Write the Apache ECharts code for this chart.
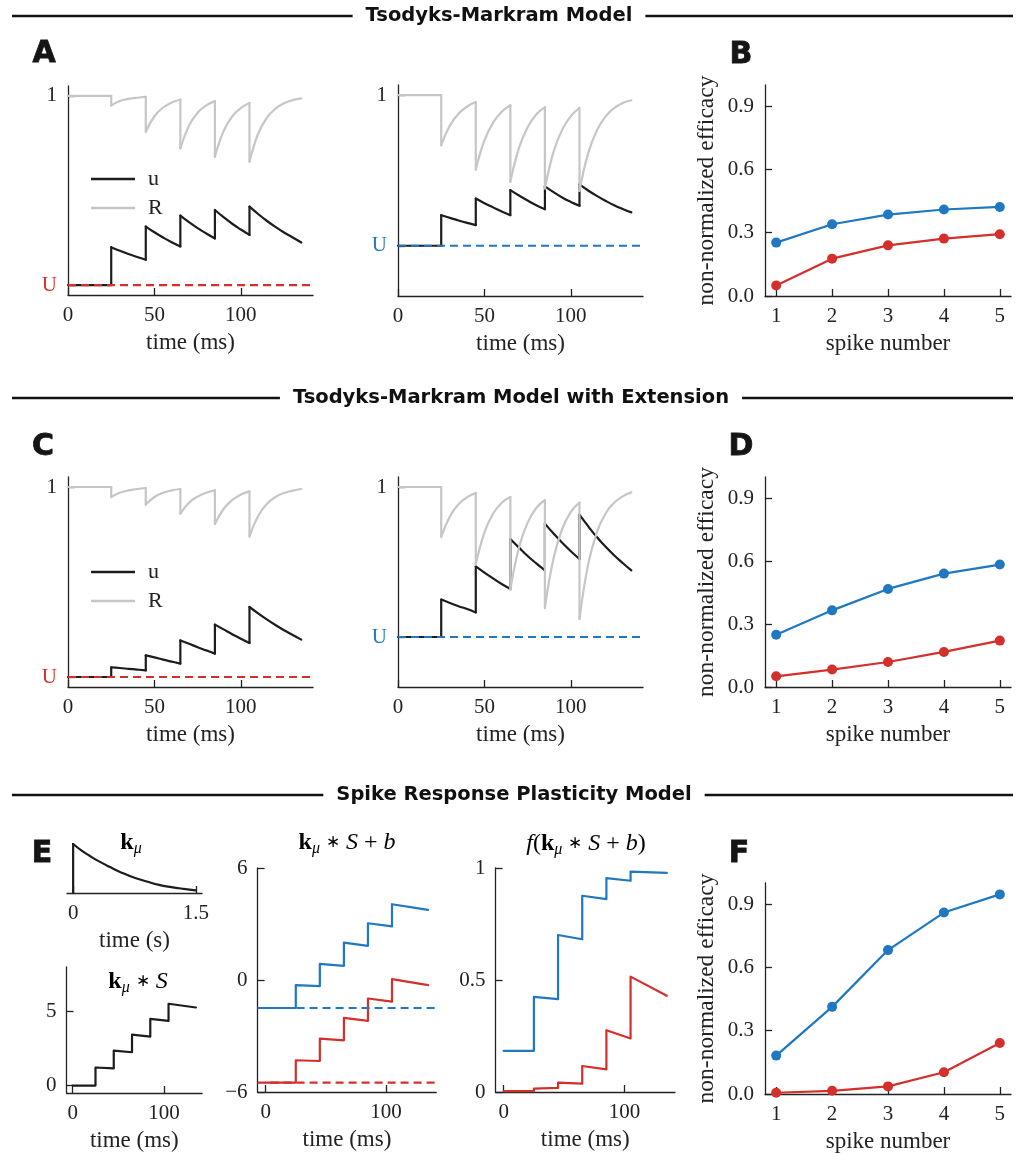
<!DOCTYPE html>
<html><head><meta charset="utf-8">
<script src="https://cdn.jsdelivr.net/npm/echarts@6/dist/echarts.min.js"></script>
<style>html,body{margin:0;padding:0;background:#fff}#c{width:1025px;height:1154px}</style>
</head><body><div id="c"></div>
<script>
// ---------------- DATA ----------------
const U_red = 0.05;
const U_blue = 0.25;
const traceTime = [0, 25,25,30,35,40, 45,45,50,55,60, 65,65,70,75,80, 85,85,90,95,100, 105,105,110,115,120,125,130,135];
// Panel A (Tsodyks-Markram)
const uA_red  = [0.05, 0.05,0.240,0.222,0.206,0.191, 0.177,0.344,0.315,0.289,0.265, 0.244,0.399,0.366,0.336,0.309, 0.284,0.427,0.391,0.358,0.329, 0.302,0.444,0.407,0.373,0.342,0.314,0.289,0.264];
const RA_red  = [1, 1,0.952,0.975,0.985,0.991, 0.995,0.820,0.898,0.942,0.967, 0.982,0.736,0.851,0.916,0.953, 0.974,0.695,0.823,0.897,0.940, 0.965,0.670,0.810,0.890,0.936,0.963,0.979,0.988];
const uA_blue = [0.25, 0.25,0.402,0.389,0.376,0.364, 0.353,0.485,0.462,0.441,0.420, 0.402,0.527,0.500,0.475,0.452, 0.432,0.546,0.517,0.490,0.468, 0.449,0.555,0.525,0.498,0.474,0.452,0.433,0.416];
const RA_blue = [1, 1,0.750,0.848,0.907,0.943, 0.965,0.629,0.774,0.863,0.917, 0.949,0.568,0.737,0.840,0.903, 0.940,0.535,0.717,0.828,0.895, 0.936,0.523,0.710,0.823,0.893,0.935,0.960,0.974];
// Panel C (with extension)
const uC_red  = [0.05, 0.05,0.098,0.095,0.091,0.087, 0.083,0.158,0.148,0.137,0.127, 0.117,0.233,0.216,0.199,0.183, 0.167,0.312,0.288,0.264,0.241, 0.220,0.400,0.368,0.338,0.310,0.284,0.260,0.237];
const RC_red  = [1, 1,0.950,0.971,0.983,0.990, 0.995,0.912,0.950,0.971,0.983, 0.990,0.867,0.921,0.952,0.971, 0.983,0.815,0.890,0.935,0.962, 0.978,0.753,0.855,0.915,0.950,0.970,0.982,0.990];
const uC_blue = [0.25, 0.25,0.437,0.420,0.404,0.390, 0.373,0.603,0.572,0.543,0.515, 0.490,0.740,0.697,0.655,0.618, 0.583,0.817,0.767,0.721,0.679, 0.640,0.862,0.804,0.750,0.702,0.659,0.620,0.583];
const RC_blue = [1, 1,0.750,0.853,0.914,0.949, 0.970,0.612,0.772,0.866,0.921, 0.950,0.487,0.698,0.822,0.895, 0.935,0.395,0.644,0.790,0.876, 0.922,0.340,0.612,0.772,0.866,0.921,0.953,0.973];
// Efficacy panels
const spikeNumber = [1, 2, 3, 4, 5];
const effB_blue = [0.253, 0.340, 0.386, 0.410, 0.422];
const effB_red  = [0.050, 0.177, 0.240, 0.272, 0.293];
const effD_blue = [0.249, 0.365, 0.467, 0.540, 0.583];
const effD_red  = [0.051, 0.083, 0.119, 0.167, 0.221];
const effF_blue = [0.182, 0.413, 0.682, 0.860, 0.946];
const effF_red  = [0.006, 0.015, 0.036, 0.103, 0.242];
// Panel E (SRP model)
const kernelTime = [0, 0, 0.1, 0.2, 0.3, 0.45, 0.6, 0.75, 0.9, 1.05, 1.2, 1.35, 1.5];
const kernelVal  = [0, 1, 0.87, 0.76, 0.66, 0.53, 0.41, 0.31, 0.235, 0.165, 0.12, 0.085, 0.055];
const stepTime = [0, 25, 25, 45, 45, 65, 65, 85, 85, 105, 105, 135];
const kS       = [0, 0, 1.22, 1.16, 2.36, 2.25, 3.44, 3.30, 4.50, 4.36, 5.52, 5.27];
const b_blue = -1.5;
const b_red  = -5.5;
const kSb_blue = [-1.5, -1.5, -0.27, -0.33, 0.86, 0.76, 2.00, 1.83, 3.04, 2.87, 4.06, 3.76];
const kSb_red  = [-5.5, -5.5, -4.30, -4.34, -3.14, -3.23, -2.03, -2.19, -0.99, -1.16, 0.05, -0.27];
const f_blue   = [0.184, 0.184, 0.425, 0.415, 0.701, 0.682, 0.876, 0.861, 0.955, 0.943, 0.984, 0.978];
const f_red    = [0.004, 0.004, 0.015, 0.018, 0.042, 0.037, 0.116, 0.101, 0.276, 0.239, 0.515, 0.430];
// tick labels
const timeTicks = [0, 50, 100];
const effTicks = [0, 0.3, 0.6, 0.9];
const kernelTicks = [0, 1.5];
const shortTimeTicks = [0, 100];

// ---------------- STYLE ----------------
const SERIF = '"Liberation Serif", "Times New Roman", serif';
const SANS = '"DejaVu Sans", sans-serif';
const AX = '#222';
const BLUE = '#1f78c1', RED = '#d3302b', GRAY = '#c6c6c8', BLACK = '#1c1c1c';
const TMAX = 141.75, TMIN = -6.75;

function zip(a, b) { return a.map((v, i) => [v, b[i]]); }

function axBase(grid, min, max, ticks, fmt, extra) {
  return Object.assign({
    type: 'value', gridIndex: grid, min: min, max: max,
    axisLine: { show: true, onZero: false, lineStyle: { color: AX, width: 1.3 } },
    axisTick: { show: true, inside: true, length: 7, customValues: ticks, lineStyle: { color: AX, width: 1.3 } },
    axisLabel: { customValues: ticks, fontFamily: SERIF, fontSize: 21, color: '#222', margin: 10,
      formatter: fmt || (v => String(v)) },
    splitLine: { show: false },
    nameTextStyle: { fontFamily: SERIF, fontSize: 23, color: '#222' }
  }, extra || {});
}
function timeX(grid, min, ticks) {
  return axBase(grid, min, TMAX, ticks, null, { name: 'time (ms)', nameLocation: 'middle', nameGap: 36 });
}
function uY(grid, U, col) {
  const a = axBase(grid, 0, 1.05, [U, 1], v => (Math.abs(v - 1) < 1e-9 ? '1' : '{c|U}'));
  a.axisLabel.margin = 11;
  a.axisLabel.rich = { c: { color: col, fontFamily: SERIF, fontSize: 21 } };
  return a;
}
function effX(grid) {
  return axBase(grid, 0.8, 5.2, spikeNumber, null, { name: 'spike number', nameLocation: 'middle', nameGap: 36 });
}
function effY(grid) {
  const a = axBase(grid, 0, 1, effTicks, v => v.toFixed(1),
    { name: 'non-normalized efficacy', nameLocation: 'middle', nameGap: 46 });
  a.axisLabel.margin = 11;
  a.nameTextStyle.fontSize = 23.5;
  return a;
}
function line(name, x, y, data, color, w, dashed, smooth) {
  return { type: 'line', name: name, xAxisIndex: x, yAxisIndex: y, data: data, showSymbol: false, symbol: 'none',
    animation: false, silent: true, smooth: smooth || false,
    lineStyle: { color: color, width: w || 2.2, type: dashed ? [8, 5] : 'solid', cap: dashed ? 'butt' : 'round', join: 'round' },
    itemStyle: { color: color } };
}
// a jumping trace: smooth pieces between spikes, straight vertical jumps at spikes
function trace(name, idx, t, v, color) {
  const out = [];
  let seg = [[t[0], v[0]]];
  for (let i = 1; i < t.length; i++) {
    if (t[i] === t[i - 1]) {
      out.push(line(name, idx, idx, seg, color, 2.2, false, 0.45));
      out.push(line(name, idx, idx, [[t[i - 1], v[i - 1]], [t[i], v[i]]], color));
      seg = [[t[i], v[i]]];
    } else {
      seg.push([t[i], v[i]]);
    }
  }
  out.push(line(name, idx, idx, seg, color, 2.2, false, 0.45));
  return out;
}
function eff(name, idx, vals, color) {
  return { type: 'line', name: name, xAxisIndex: idx, yAxisIndex: idx, data: zip(spikeNumber, vals),
    symbol: 'circle', symbolSize: 10, animation: false, silent: true,
    lineStyle: { color: color, width: 2.2 }, itemStyle: { color: color } };
}

const grids = [
  { left: 68, top: 86, width: 245, height: 209 },     // 0 A left
  { left: 398, top: 85, width: 245, height: 211 },    // 1 A mid
  { left: 765, top: 85, width: 246, height: 211 },    // 2 B
  { left: 68, top: 477, width: 245, height: 210 },    // 3 C left
  { left: 398, top: 477, width: 245, height: 210 },   // 4 C mid
  { left: 765, top: 477, width: 246, height: 210 },   // 5 D
  { left: 67, top: 844, width: 135, height: 49 },     // 6 kernel
  { left: 66.5, top: 967, width: 135.6, height: 126 },// 7 k*S
  { left: 257.6, top: 868, width: 178.6, height: 224 },// 8 k*S+b
  { left: 495.5, top: 868, width: 179.5, height: 224 },// 9 f
  { left: 765, top: 883, width: 246, height: 211 }    // 10 F
];

const xAxes = [
  timeX(0, 0, timeTicks), timeX(1, 0, timeTicks), effX(2),
  timeX(3, 0, timeTicks), timeX(4, 0, timeTicks), effX(5),
  axBase(6, -0.075, 1.575, kernelTicks, null, { name: 'time (s)', nameLocation: 'middle', nameGap: 36 }),
  timeX(7, TMIN, shortTimeTicks), timeX(8, TMIN, shortTimeTicks), timeX(9, TMIN, shortTimeTicks),
  effX(10)
];
const yKS = axBase(7, -0.5, 8, [0, 5]);
const yKSb = axBase(8, -6, 6, [-6, 0, 6], v => (v < 0 ? '\u2212' + Math.abs(v) : String(v)));
const yF = axBase(9, 0, 1, [0, 0.5, 1]);
const yKernel = axBase(6, 0, 1, [], null, { show: false });
const yAxes = [
  uY(0, U_red, RED), uY(1, U_blue, BLUE), effY(2),
  uY(3, U_red, RED), uY(4, U_blue, BLUE), effY(5),
  yKernel, yKS, yKSb, yF, effY(10)
];

const series = [].concat(
  trace('u', 0, traceTime, uA_red, BLACK), trace('R', 0, traceTime, RA_red, GRAY),
  [line('U red A', 0, 0, [[0, U_red], [TMAX, U_red]], RED, 2.2, true)],
  trace('u', 1, traceTime, uA_blue, BLACK), trace('R', 1, traceTime, RA_blue, GRAY),
  [line('U blue A', 1, 1, [[0, U_blue], [TMAX, U_blue]], BLUE, 2.2, true)],
  [eff('B blue', 2, effB_blue, BLUE), eff('B red', 2, effB_red, RED)],
  trace('u', 3, traceTime, uC_red, BLACK), trace('R', 3, traceTime, RC_red, GRAY),
  [line('U red C', 3, 3, [[0, U_red], [TMAX, U_red]], RED, 2.2, true)],
  trace('u', 4, traceTime, uC_blue, BLACK), trace('R', 4, traceTime, RC_blue, GRAY),
  [line('U blue C', 4, 4, [[0, U_blue], [TMAX, U_blue]], BLUE, 2.2, true)],
  [eff('D blue', 5, effD_blue, BLUE), eff('D red', 5, effD_red, RED)],
  trace('kernel', 6, kernelTime, kernelVal, BLACK),
  [line('kS', 7, 7, zip(stepTime, kS), BLACK),
   line('kSb blue', 8, 8, zip(stepTime, kSb_blue), BLUE), line('kSb red', 8, 8, zip(stepTime, kSb_red), RED),
   line('b blue', 8, 8, [[TMIN, b_blue], [TMAX, b_blue]], BLUE, 2.2, true),
   line('b red', 8, 8, [[TMIN, b_red], [TMAX, b_red]], RED, 2.2, true),
   line('f blue', 9, 9, zip(stepTime, f_blue), BLUE), line('f red', 9, 9, zip(stepTime, f_red), RED),
   eff('F blue', 10, effF_blue, BLUE), eff('F red', 10, effF_red, RED)]
);

function legendAt(top) {
  return { data: ['u', 'R'], orient: 'vertical', left: 86, top: top, icon: 'rect', itemWidth: 44, itemHeight: 2.4,
    itemGap: 7, selectedMode: false, textStyle: { fontFamily: SERIF, fontSize: 22, color: '#222', lineHeight: 21, padding: [0, 0, 0, 8] } };
}

// section headers
function header(y, cx, text) {
  return [
    { type: 'line', shape: { x1: 12, y1: y, x2: 1013, y2: y }, style: { stroke: '#111', lineWidth: 2.5 }, z: 1 },
    { type: 'text', x: cx, y: y, z: 2, style: { text: text, align: 'center', verticalAlign: 'middle',
      font: 'bold 19.5px ' + SANS, fill: '#111', backgroundColor: '#fff', padding: [2, 13] } }
  ];
}
function letter(x, y, t) {
  return { type: 'text', x: x, y: y, style: { text: t, align: 'center', verticalAlign: 'middle', font: '900 30px ' + SANS, fill: '#151515',
    stroke: '#151515', lineWidth: 0.8 } };
}
const mathRich = {
  b: { fontFamily: SERIF, fontWeight: 'bold', fontSize: 24, lineHeight: 24, padding: [0, 0, 4, 0], color: '#222' },
  n: { fontFamily: SERIF, fontSize: 24, lineHeight: 24, padding: [0, 0, 4, 0], color: '#222' },
  o: { fontFamily: SERIF, fontSize: 17, lineHeight: 24, padding: [0, 0, 4, 0], color: '#222' },
  i: { fontFamily: SERIF, fontStyle: 'italic', fontSize: 24, lineHeight: 24, padding: [0, 0, 4, 0], color: '#222' },
  s: { fontFamily: SERIF, fontStyle: 'italic', fontSize: 16, lineHeight: 16, verticalAlign: 'bottom', color: '#222' }
};
function mathText(x, y, t) {
  return { type: 'text', x: x, y: y, z: 10, style: { text: t, rich: mathRich, align: 'center', verticalAlign: 'middle' } };
}
const MU = '{b|k}{s|\u03bc}';
const STAR = '{n| }{o|\u2217}{n| }';
const PLUS = '{n| + }';

const graphic = [].concat(
  header(16, 499, 'Tsodyks-Markram Model'),
  header(398, 511, 'Tsodyks-Markram Model with Extension'),
  header(795, 514, 'Spike Response Plasticity Model'),
  [letter(44, 54, 'A'), letter(741, 55, 'B'), letter(43, 447, 'C'), letter(741, 447, 'D'), letter(42, 854, 'E'), letter(739, 854, 'F'),
   mathText(131, 845, MU),
   mathText(138, 984, MU + STAR + '{i|S}'),
   mathText(347, 845, MU + STAR + '{i|S}' + PLUS + '{i|b}'),
   mathText(586, 846, '{i|f}{n|(}' + MU + STAR + '{i|S}' + PLUS + '{i|b}{n|)}')]
);

const chart = echarts.init(document.getElementById('c'), null, { renderer: 'canvas' });
chart.setOption({
  animation: false,
  backgroundColor: '#fff',
  grid: grids,
  xAxis: xAxes,
  yAxis: yAxes,
  legend: [legendAt(163), legendAt(556)],
  series: series,
  graphic: graphic
});
</script></body></html>
